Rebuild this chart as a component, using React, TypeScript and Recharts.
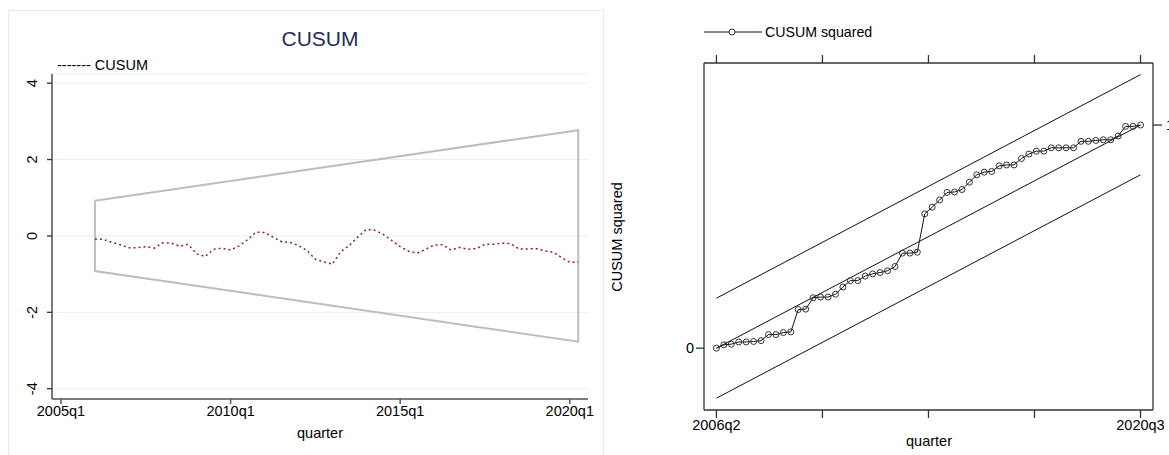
import React from "react"
import { LineChart, Line, XAxis, YAxis, CartesianGrid } from "recharts"

const FONT = '"Liberation Sans", Arial, sans-serif'

// CUSUM (left panel), one value per quarter from 2006q1
const cusumStart = "2006q1"
const cusumValues = [
  -0.08, -0.09, -0.17, -0.23, -0.31, -0.31, -0.28, -0.32, -0.18, -0.19,
  -0.27, -0.22, -0.47, -0.54, -0.35, -0.32, -0.37, -0.26, -0.1, 0.1,
  0.09, -0.03, -0.15, -0.17, -0.25, -0.38, -0.61, -0.68, -0.74, -0.41,
  -0.25, -0.03, 0.17, 0.15, 0.04, -0.12, -0.28, -0.4, -0.45, -0.35,
  -0.24, -0.23, -0.37, -0.3, -0.35, -0.33, -0.22, -0.22, -0.19, -0.2,
  -0.34, -0.34, -0.33, -0.39, -0.42, -0.56, -0.69, -0.69,
]
// 5% band half-width at first and last quarter
const cusumBand = [0.92, 2.77]
const cusumXTicks = ["2005q1", "2010q1", "2015q1", "2020q1"]
const cusumYTicks = [-4, -2, 0, 2, 4]

// CUSUM squared (right panel), one value per quarter from 2006q2
const sqStart = "2006q2"
const sqValues = [
  0, 0.015, 0.018, 0.028, 0.028, 0.03, 0.034, 0.061, 0.061, 0.07,
  0.073, 0.173, 0.175, 0.226, 0.229, 0.229, 0.242, 0.274, 0.303, 0.303,
  0.323, 0.333, 0.339, 0.347, 0.366, 0.426, 0.426, 0.43, 0.602, 0.632,
  0.664, 0.698, 0.7, 0.711, 0.744, 0.777, 0.789, 0.792, 0.817, 0.821,
  0.821, 0.85, 0.87, 0.883, 0.883, 0.898, 0.898, 0.898, 0.898, 0.927,
  0.927, 0.931, 0.934, 0.934, 0.951, 0.994, 0.994, 1.0,
]
const sqUpper = [0.224, 1.226]
const sqMid = [0, 1]
const sqLower = [-0.224, 0.777]
const sqXLabels = ["2006q2", "", "", "", "2020q3"]

// quarter helpers
const qIndex = (s: string) => {
  const [y, q] = s.split("q").map(Number)
  return y * 4 + q - 1
}
const qLabel = (i: number) => `${Math.floor(i / 4)}q${(i % 4) + 1}`

const cusumX0 = qIndex(cusumStart)
const cusumX1 = cusumX0 + cusumValues.length - 1
const cusumData = cusumValues.map((v, i) => ({ x: cusumX0 + i, y: v }))
const bandData = [
  { x: cusumX0, y: cusumBand[0] },
  { x: cusumX1, y: cusumBand[1] },
  { x: cusumX1, y: -cusumBand[1] },
  { x: cusumX0, y: -cusumBand[0] },
  { x: cusumX0, y: cusumBand[0] },
]

const sqX0 = qIndex(sqStart)
const sqX1 = sqX0 + sqValues.length - 1
const sqData = sqValues.map((v, i) => ({ x: sqX0 + i, y: v }))
const seg = (pair: number[]) => [
  { x: sqX0, y: pair[0] },
  { x: sqX1, y: pair[1] },
]
const sqTicks = sqXLabels.map((_, i) => sqX0 + ((sqX1 - sqX0) * i) / (sqXLabels.length - 1))

const RotTick = (props: any) => {
  const { x, y, payload } = props
  const bx = x - 8
  return (
    <text x={bx} y={y} transform={`rotate(-90 ${bx} ${y})`} textAnchor="middle" fontSize={14.5} fill="#000">
      {payload.value}
    </text>
  )
}

const abs = (left: number, top: number, extra: React.CSSProperties = {}): React.CSSProperties => ({
  position: "absolute",
  left,
  top,
  whiteSpace: "nowrap",
  lineHeight: 1,
  ...extra,
})

export default function App() {
  const axisCol = "#333"
  return (
    <div style={{ position: "absolute", left: 0, top: 0, width: 1169, height: 455, background: "#fff", fontFamily: FONT, overflow: "hidden" }}>
      {/* left panel */}
      <div style={{ position: "absolute", left: 8, top: 10, width: 594, height: 470, border: "1px solid #e3edf0" }} />
      <div style={{ position: "absolute", left: 0, top: 0 }}>
        <LineChart width={600} height={455} margin={{ top: 74, right: 12, bottom: 0, left: 0 }}>
          <CartesianGrid vertical={false} stroke="#e6eff2" />
          <XAxis
            type="number"
            dataKey="x"
            domain={[8018.94, 8082.15]}
            allowDataOverflow
            ticks={cusumXTicks.map(qIndex)}
            tickFormatter={qLabel}
            height={56}
            tickSize={5}
            stroke="#555"
            strokeWidth={1.5}
            tick={{ fill: "#000", fontSize: 14.5 }}
          />
          <YAxis
            type="number"
            domain={[-4.27, 4.24]}
            allowDataOverflow
            ticks={cusumYTicks}
            width={52}
            tickSize={5}
            stroke={axisCol}
            strokeWidth={1.3}
            tick={<RotTick />}
          />
          <Line data={bandData} dataKey="y" stroke="#bdbdbd" strokeWidth={2} dot={false} isAnimationActive={false} />
          <Line data={cusumData} dataKey="y" stroke="#8f1f2f" strokeWidth={1.5} strokeDasharray="2 3" dot={false} isAnimationActive={false} />
        </LineChart>
      </div>
      <div style={abs(320, 38, { transform: "translate(-50%, -50%)", fontSize: 21, color: "#1c2d55" })}>CUSUM</div>
      <div style={abs(57, 58, { fontSize: 14.5, color: "#000" })}>------- CUSUM</div>
      <div style={abs(320, 433, { transform: "translate(-50%, -50%)", fontSize: 14.5 })}>quarter</div>

      {/* right panel */}
      <div style={{ position: "absolute", left: 603, top: 0 }}>
        <LineChart width={566} height={455} margin={{ top: 62, right: 0, bottom: 0, left: 0 }}>
          <XAxis
            xAxisId="b"
            type="number"
            dataKey="x"
            domain={[8023.33, 8083.68]}
            allowDataOverflow
            ticks={sqTicks}
            tickFormatter={(v: number) => sqXLabels[sqTicks.indexOf(v)] ?? ""}
            height={45}
            tickSize={8}
            stroke={axisCol}
            strokeWidth={1.3}
            tick={{ fill: "#000", fontSize: 14.5 }}
          />
          <XAxis
            xAxisId="t"
            orientation="top"
            type="number"
            dataKey="x"
            domain={[8023.33, 8083.68]}
            allowDataOverflow
            ticks={sqTicks}
            tickFormatter={() => ""}
            height={1}
            tickSize={8}
            stroke={axisCol}
            strokeWidth={1.3}
          />
          <YAxis
            yAxisId="l"
            type="number"
            domain={[-0.277, 1.278]}
            allowDataOverflow
            ticks={[0]}
            width={101}
            tickSize={8}
            stroke={axisCol}
            strokeWidth={1.3}
            tick={{ fill: "#000", fontSize: 14.5 }}
          />
          <YAxis
            yAxisId="r"
            orientation="right"
            type="number"
            domain={[-0.277, 1.278]}
            allowDataOverflow
            ticks={[1]}
            width={16}
            tickSize={9}
            stroke={axisCol}
            strokeWidth={1.3}
            tick={{ fill: "#000", fontSize: 14.5, dx: 2 }}
          />
          <Line xAxisId="b" yAxisId="l" data={seg(sqUpper)} dataKey="y" stroke="#111" strokeWidth={1} dot={false} isAnimationActive={false} />
          <Line xAxisId="b" yAxisId="l" data={seg(sqMid)} dataKey="y" stroke="#111" strokeWidth={1} dot={false} isAnimationActive={false} />
          <Line xAxisId="b" yAxisId="l" data={seg(sqLower)} dataKey="y" stroke="#111" strokeWidth={1} dot={false} isAnimationActive={false} />
          <Line
            xAxisId="b"
            yAxisId="l"
            data={sqData}
            dataKey="y"
            stroke="#111"
            strokeWidth={1}
            dot={{ r: 3, stroke: "#333", strokeWidth: 1, fill: "none" }}
            isAnimationActive={false}
          />
        </LineChart>
      </div>
      <svg style={{ position: "absolute", left: 700, top: 24 }} width={66} height={16}>
        <line x1={4} y1={8} x2={62} y2={8} stroke="#111" strokeWidth={1} />
        <circle cx={32} cy={8} r={3} stroke="#333" strokeWidth={1} fill="#fff" />
      </svg>
      <div style={abs(765, 25, { fontSize: 14.2 })}>CUSUM squared</div>
      <div style={abs(617, 237, { transform: "translate(-50%, -50%) rotate(-90deg)", fontSize: 14.5 })}>CUSUM squared</div>
      <div style={abs(929, 441, { transform: "translate(-50%, -50%)", fontSize: 14.5 })}>quarter</div>
    </div>
  )
}
